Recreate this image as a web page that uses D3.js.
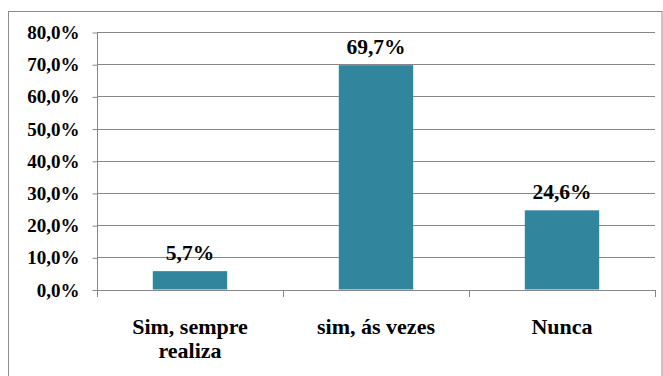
<!DOCTYPE html>
<html>
<head>
<meta charset="utf-8">
<script src="https://cdn.jsdelivr.net/npm/d3@7"></script>
<style>
  html, body { margin: 0; padding: 0; background: #fff; }
  svg { display: block; }
</style>
</head>
<body>
<script>
// Respostas e percentuais
const categories = ["Sim, sempre realiza", "sim, ás vezes", "Nunca"];
const categoryLines = [["Sim, sempre", "realiza"], ["sim, ás vezes"], ["Nunca"]];
const values = [5.7, 69.7, 24.6];
const valueLabels = ["5,7%", "69,7%", "24,6%"];
const yTicks = [0, 10, 20, 30, 40, 50, 60, 70, 80];
const yTickLabels = ["0,0%", "10,0%", "20,0%", "30,0%", "40,0%", "50,0%", "60,0%", "70,0%", "80,0%"];

const W = 663, H = 376;
const FONT = "'Liberation Serif', 'Times New Roman', serif";
const plot = { left: 97, right: 655, top: 32, bottom: 289.5 };

const svg = d3.select("body").append("svg").attr("width", W).attr("height", H);

// chart frame
svg.append("rect")
  .attr("x", 8.5).attr("y", 11.5)
  .attr("width", 662 - 8.5).attr("height", H)
  .attr("fill", "none").attr("stroke", "#8c8c8c").attr("stroke-width", 1);

const x = d3.scaleBand().domain(categories)
  .range([plot.left, plot.right])
  .paddingInner(0.6).paddingOuter(0.3);
const y = d3.scaleLinear().domain([0, 80]).range([plot.bottom, plot.top]);

// horizontal gridlines
svg.append("g").selectAll("line").data(yTicks.filter(d => d > 0)).join("line")
  .attr("x1", plot.left).attr("x2", plot.right)
  .attr("y1", d => Math.round(y(d)) + 0.5).attr("y2", d => Math.round(y(d)) + 0.5)
  .attr("stroke", "#878787").attr("stroke-width", 1);

// y axis
const yAxis = d3.axisLeft(y).tickValues(yTicks)
  .tickFormat((d, i) => yTickLabels[i]).tickSize(5).tickPadding(13);
const gy = svg.append("g").attr("transform", `translate(${plot.left + 0.5},0.5)`).call(yAxis);
gy.select(".domain").attr("stroke", "#878787").attr("d", `M0,${plot.top}V${plot.bottom}`);
gy.selectAll(".tick line").attr("stroke", "#878787");
gy.selectAll(".tick text")
  .style("font-family", FONT).style("font-size", "19px").style("font-weight", "bold").attr("fill", "#000");

// bars
svg.append("g").selectAll("rect").data(values).join("rect")
  .attr("x", (d, i) => x(categories[i]))
  .attr("y", d => y(d))
  .attr("width", x.bandwidth())
  .attr("height", d => y(0) - y(d))
  .attr("fill", "#31859c");

// x axis line and category boundary ticks
const xEdges = [0, 1, 2, 3].map(i => plot.left + i * x.step());
svg.append("line")
  .attr("x1", plot.left).attr("x2", plot.right)
  .attr("y1", Math.round(plot.bottom) + 0.5).attr("y2", Math.round(plot.bottom) + 0.5)
  .attr("stroke", "#878787");
svg.append("g").selectAll("line").data(xEdges).join("line")
  .attr("x1", d => Math.round(d) + 0.5).attr("x2", d => Math.round(d) + 0.5)
  .attr("y1", Math.round(plot.bottom)).attr("y2", Math.round(plot.bottom) + 7)
  .attr("stroke", "#878787");

// category labels
const cat = svg.append("g").selectAll("text").data(categoryLines).join("text")
  .attr("text-anchor", "middle")
  .style("font-family", FONT).style("font-weight", "bold").style("font-size", "22px").attr("fill", "#000")
  .attr("transform", (d, i) => `translate(${x(categories[i]) + x.bandwidth() / 2},334)`);
cat.selectAll("tspan").data(d => d).join("tspan")
  .attr("x", 0).attr("dy", (d, j) => j === 0 ? 0 : 24)
  .text(d => d);

// value labels
svg.append("g").selectAll("text").data(values).join("text")
  .attr("text-anchor", "middle")
  .style("font-family", FONT).style("font-weight", "bold").style("font-size", "21.5px").attr("fill", "#000")
  .attr("x", (d, i) => x(categories[i]) + x.bandwidth() / 2)
  .attr("y", d => y(d) - 11)
  .text((d, i) => valueLabels[i]);
</script>
</body>
</html>
